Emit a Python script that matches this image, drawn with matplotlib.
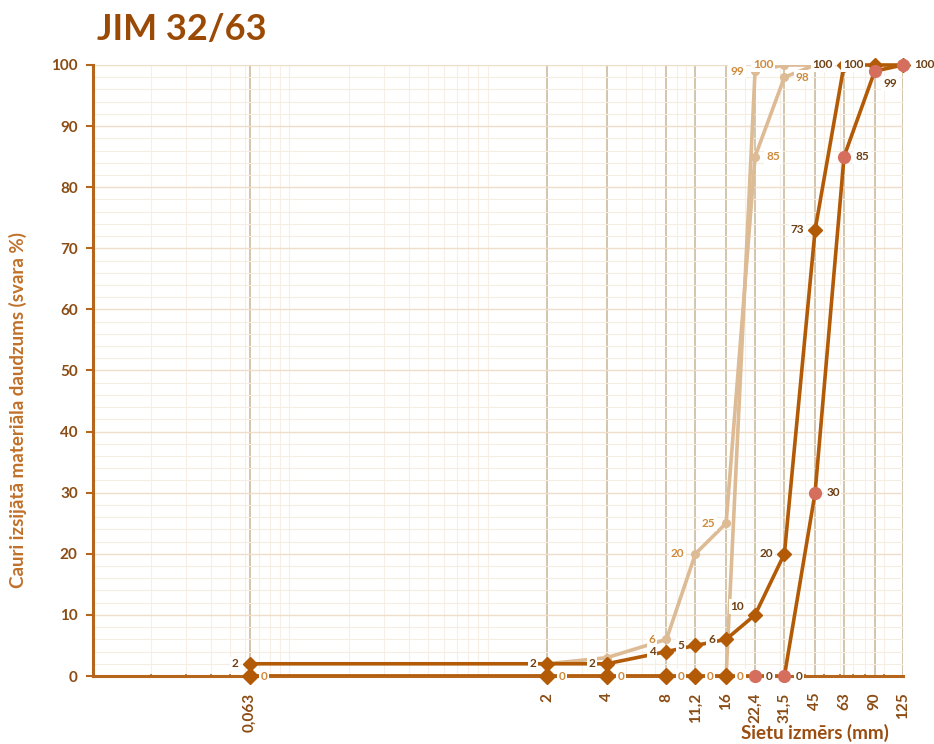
import numpy as np
import matplotlib
matplotlib.use("Agg")
import matplotlib.pyplot as plt
from matplotlib.ticker import FixedLocator, LogLocator, NullFormatter, MultipleLocator

plt.rcParams['font.family'] = ['Lato', 'DejaVu Sans']
plt.rcParams['font.weight'] = 'bold'

# ---------------- data ----------------
sieves = [0.063, 2, 4, 8, 11.2, 16, 22.4, 31.5, 45, 63, 90, 125]
sieve_labels = ["0,063", "2", "4", "8", "11,2", "16", "22,4", "31,5", "45", "63", "90", "125"]

nan = np.nan
limit_a = [nan, 2, 3, 6, 20, 25, 85, 98, 100, nan, nan, nan]
limit_b = [0, 0, 0, 0, 0, 0, 99, 100, 100, nan, nan, nan]
curve_c = [2, 2, 2, 4, 5, 6, 10, 20, 73, 100, 100, 100]
curve_d = [0, 0, 0, 0, 0, 0, 0, 0, 30, 85, 99, 100]

title = "JIM 32/63"
ylabel = "Cauri izsijātā materiāla daudzums (svara %)"
xlabel = "Sietu izmērs (mm)"

# label side for each point: 'l', 'r', 'rb' or None
lab_a = [None, None, None, 'l', 'l', 'l', 'r', 'r', None, None, None, None]
lab_b = ['r', 'r', 'r', 'r', 'r', 'r', 'l', 'l', None, None, None, None]
lab_c = ['l', 'l', 'l', 'l', 'l', 'l', 'lu', 'l', 'l', 'l', 'l', None]
lab_d = [None, None, None, None, None, None, 'r', 'r', 'r', 'r', 'rb', 'r']

# ---------------- style ----------------
C_AXIS = '#b5661c'
C_TICK = '#8b4c14'
C_DARK = '#b35a07'
C_LIGHT = '#dcbb95'
C_RED = '#d66e5e'
C_LAB_LIGHT = '#cf8a3c'
C_LAB_DARK = '#6e3f12'

fig = plt.figure(figsize=(9.34, 7.44), dpi=100)
ax = fig.add_axes([93/934, 1-676/744, (903-93)/934, (676-65)/744])
ax.set_xscale('log')
ax.set_xlim(0.0102, 125)
ax.set_ylim(0, 100)

# grid
ax.yaxis.set_major_locator(MultipleLocator(10))
ax.yaxis.set_minor_locator(MultipleLocator(2))
ax.xaxis.set_major_locator(FixedLocator(sieves))
ax.xaxis.set_minor_locator(LogLocator(base=10, subs=np.arange(1, 10)))
ax.xaxis.set_minor_formatter(NullFormatter())
ax.grid(which='minor', axis='x', color='#f7efe6', lw=0.8, zorder=0)
ax.grid(which='minor', axis='y', color='#f6ede2', lw=0.8, zorder=0)
ax.grid(which='major', axis='y', color='#efdfca', lw=1.0, zorder=0)
ax.grid(which='major', axis='x', color='#c9b596', lw=1.1, zorder=0.5)
ax.set_axisbelow(True)

for s in ['top', 'right']:
    ax.spines[s].set_visible(False)
for s in ['left', 'bottom']:
    ax.spines[s].set_color(C_AXIS)
    ax.spines[s].set_linewidth(2.2)

ax.set_xticklabels(sieve_labels, rotation=90, fontsize=11, fontweight='bold', color=C_TICK)
ax.tick_params(axis='x', which='major', length=0, pad=12)
ax.tick_params(axis='x', which='minor', length=3, direction='inout', color=C_AXIS, width=1.2)
ax.tick_params(axis='y', which='major', length=5, width=1.5, color=C_AXIS, labelsize=11,
               labelcolor=C_TICK, pad=6)
ax.tick_params(axis='y', which='minor', length=0)
for t in ax.get_yticklabels():
    t.set_fontweight('bold')

x = np.array(sieves)

# light series
ax.plot(x, limit_a, color=C_LIGHT, lw=2.6, marker='o', ms=5.5, mfc=C_LIGHT, mec=C_LIGHT, zorder=3)
ax.plot(x, limit_b, color=C_LIGHT, lw=2.6, marker='o', ms=5.5, mfc=C_LIGHT, mec=C_LIGHT, zorder=3)

# dark series
ax.plot(x, curve_c, color=C_DARK, lw=2.6, marker='D', ms=7.5, mfc=C_DARK, mec=C_DARK, zorder=4,
        clip_on=False)
d = np.array(curve_d, dtype=float)
ax.plot(x, d, color=C_DARK, lw=2.6, zorder=5)
dcol = [C_DARK if xv < 20 else C_RED for xv in sieves]
dmark = ['D' if xv < 20 else 'o' for xv in sieves]
for xv, yv, c, m in zip(x, d, dcol, dmark):
    ax.plot([xv], [yv], marker=m, ms=8 if m == 'D' else 8.5, color=c, mec=c, zorder=6, clip_on=False)


def put_labels(vals, sides, color):
    for xv, yv, sd in zip(x, vals, sides):
        if sd is None or np.isnan(yv):
            continue
        txt = f"{yv:g}"
        off = {'l': (-8, 0, 'right', 'center'), 'r': (8, 0, 'left', 'center'),
               'lu': (-8, 6, 'right', 'center'), 'rb': (6, -9, 'left', 'center')}[sd]
        ax.annotate(txt, (xv, yv), xytext=(off[0], off[1]), textcoords='offset points',
                    ha=off[2], va=off[3], fontsize=8.5, fontweight='bold', color=color,
                    bbox=dict(boxstyle='square,pad=0.15', fc='white', ec='none'),
                    zorder=8, annotation_clip=False)


put_labels(limit_a, lab_a, C_LAB_LIGHT)
put_labels(limit_b, lab_b, C_LAB_LIGHT)
put_labels(curve_c, lab_c, C_LAB_DARK)
put_labels(curve_d, lab_d, C_LAB_DARK)

fig.text(97/934, 1-30/744, title, fontsize=26, fontweight='bold', color='#9b4a05',
         ha='left', va='center')
fig.text(18/934, 1-410/744, ylabel, rotation=90, fontsize=13.5, fontweight='bold',
         color='#c0712a', ha='center', va='center')
fig.text(815/934, 1-733/744, xlabel, fontsize=13.5, fontweight='bold', color='#9a4d10',
         ha='center', va='center')

fig.savefig('out.png', dpi=100)
